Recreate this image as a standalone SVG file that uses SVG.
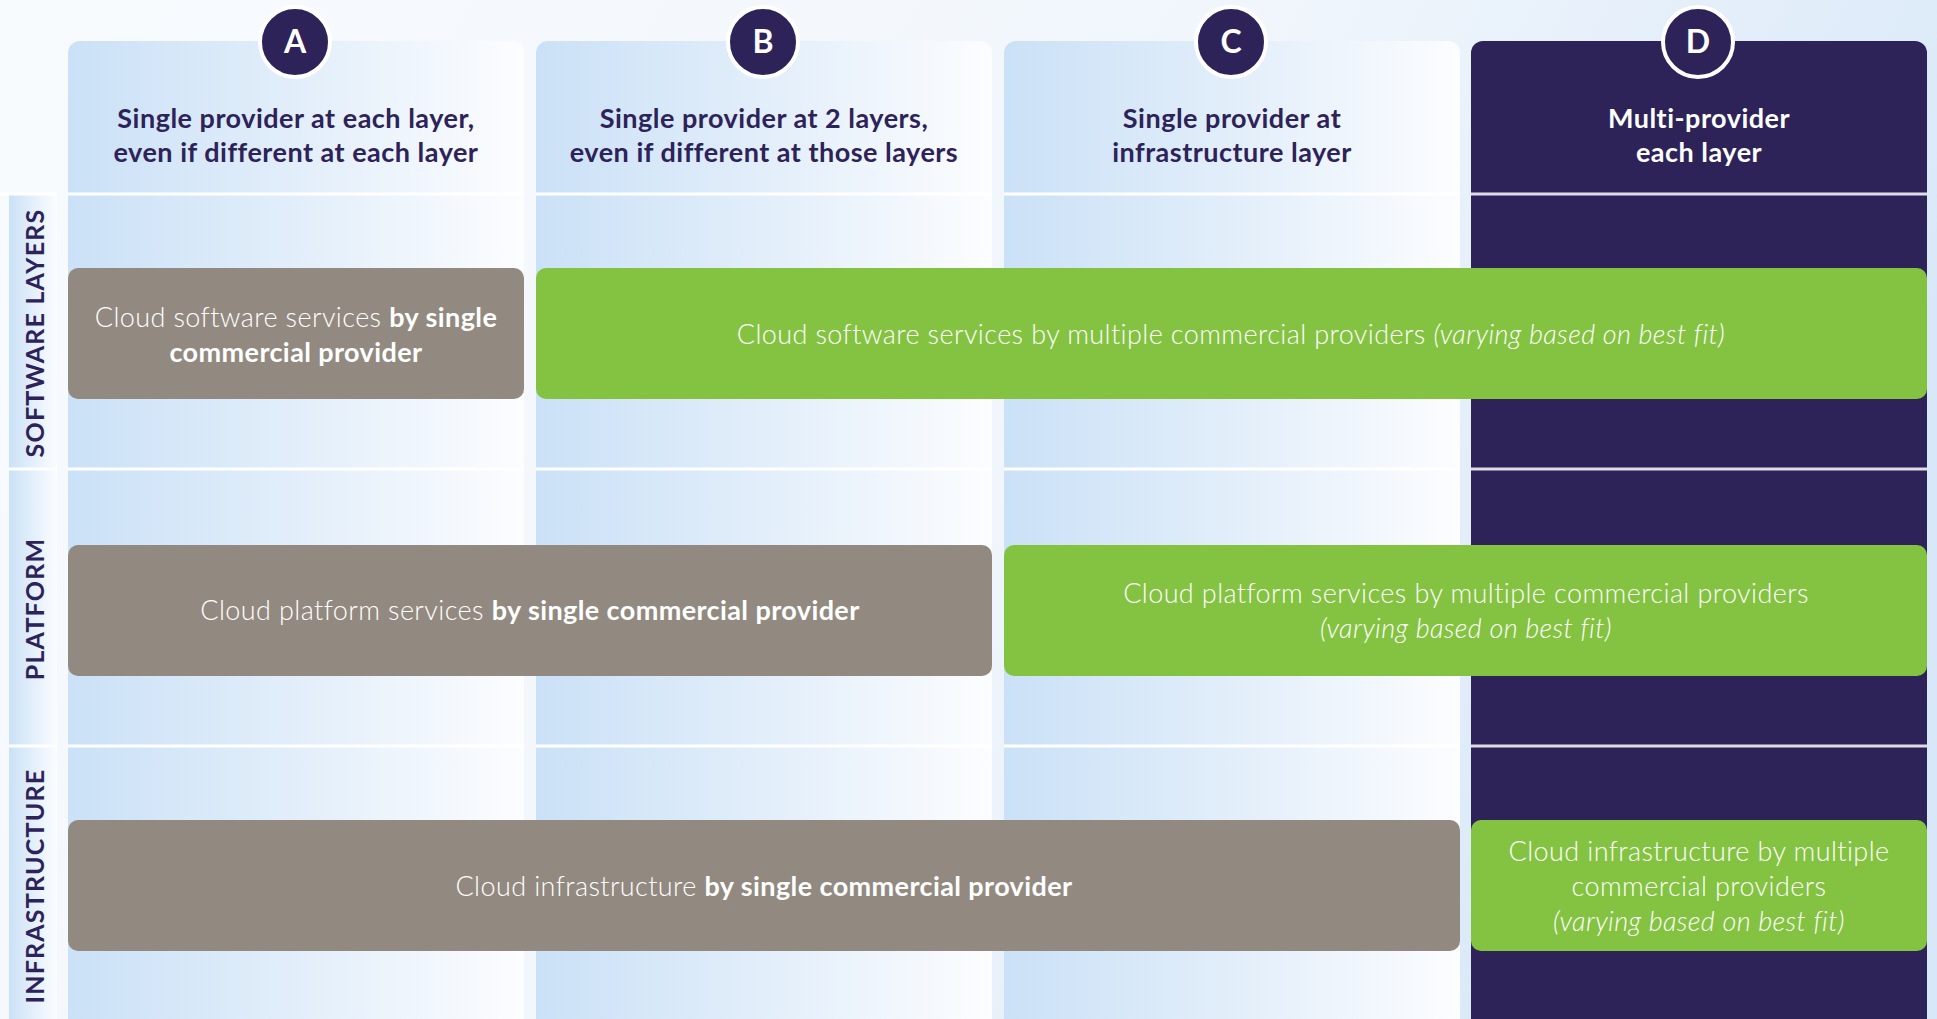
<svg xmlns="http://www.w3.org/2000/svg" width="1937" height="1019" viewBox="0 0 1937 1019">
<defs>
<linearGradient id="bg" x1="0" y1="0" x2="1" y2="0.3">
<stop offset="0" stop-color="#f8fbfe"/>
<stop offset="0.6" stop-color="#f1f6fc"/>
<stop offset="1" stop-color="#d9e8f8"/>
</linearGradient>
<linearGradient id="col" x1="0" y1="0" x2="1" y2="0">
<stop offset="0" stop-color="#cbe1f7"/>
<stop offset="0.5" stop-color="#e2eefa"/>
<stop offset="1" stop-color="#fcfdff"/>
</linearGradient>
<linearGradient id="lab" x1="0" y1="0" x2="1" y2="0">
<stop offset="0" stop-color="#cbe1f7"/>
<stop offset="1" stop-color="#fbfdff"/>
</linearGradient>
</defs>
<style>
.hdr{font-family:Lato,"Liberation Sans",sans-serif;font-weight:700;font-size:27px;letter-spacing:0.5px;fill:#2d2359;text-anchor:middle}
.hdrw{fill:#ffffff}
.lbl{font-family:Lato,"Liberation Sans",sans-serif;font-weight:700;font-size:25px;letter-spacing:1.2px;fill:#2d2359;text-anchor:middle}
.txt{font-family:Lato,"Liberation Sans",sans-serif;font-weight:300;font-size:27px;letter-spacing:0.4px;fill:#ffffff;text-anchor:middle}
.b{font-weight:700}
.i{font-style:italic}
.gray{fill:#928a80}
.green{fill:#84c341}
.sep{stroke:#ffffff;stroke-width:3}
.circ{fill:#2d2359;stroke:#ffffff;stroke-width:4}
.let{font-family:Lato,"Liberation Sans",sans-serif;font-weight:700;font-size:32px;fill:#ffffff;text-anchor:middle}
</style>
<rect x="0" y="0" width="1937" height="1019" fill="url(#bg)"/>

<g id="label-column">
<rect x="9" y="194" width="48" height="830" fill="url(#lab)"/>
<line class="sep" x1="9" y1="469" x2="57" y2="469"/>
<line class="sep" x1="9" y1="746" x2="57" y2="746"/>
<line class="sep" x1="0" y1="194" x2="57" y2="194"/>
</g>
<g id="label-software"><text class="lbl" transform="translate(44,333) rotate(-90)">SOFTWARE LAYERS</text></g>
<g id="label-platform"><text class="lbl" transform="translate(44,609) rotate(-90)">PLATFORM</text></g>
<g id="label-infrastructure"><text class="lbl" transform="translate(44,886) rotate(-90)">INFRASTRUCTURE</text></g>

<g id="column-a">
<path d="M68,53 a12,12 0 0 1 12,-12 h432 a12,12 0 0 1 12,12 V1030 H68 Z" fill="url(#col)"/>
<line class="sep" x1="68" y1="194" x2="524" y2="194"/>
<line class="sep" x1="68" y1="469" x2="524" y2="469"/>
<line class="sep" x1="68" y1="746" x2="524" y2="746"/>
<text class="hdr" x="296" y="128">Single provider at each layer,</text>
<text class="hdr" x="296" y="162">even if different at each layer</text>
<circle class="circ" cx="295" cy="42" r="35"/>
<text class="let" x="295" y="53">A</text>
</g>
<g id="column-b">
<path d="M536,53 a12,12 0 0 1 12,-12 h432 a12,12 0 0 1 12,12 V1030 H536 Z" fill="url(#col)"/>
<line class="sep" x1="536" y1="194" x2="992" y2="194"/>
<line class="sep" x1="536" y1="469" x2="992" y2="469"/>
<line class="sep" x1="536" y1="746" x2="992" y2="746"/>
<text class="hdr" x="764" y="128">Single provider at 2 layers,</text>
<text class="hdr" x="764" y="162">even if different at those layers</text>
<circle class="circ" cx="763" cy="42" r="35"/>
<text class="let" x="763" y="53">B</text>
</g>
<g id="column-c">
<path d="M1004,53 a12,12 0 0 1 12,-12 h432 a12,12 0 0 1 12,12 V1030 H1004 Z" fill="url(#col)"/>
<line class="sep" x1="1004" y1="194" x2="1460" y2="194"/>
<line class="sep" x1="1004" y1="469" x2="1460" y2="469"/>
<line class="sep" x1="1004" y1="746" x2="1460" y2="746"/>
<text class="hdr" x="1232" y="128">Single provider at</text>
<text class="hdr" x="1232" y="162">infrastructure layer</text>
<circle class="circ" cx="1231" cy="42" r="35"/>
<text class="let" x="1231" y="53">C</text>
</g>
<g id="column-d">
<path d="M1471,53 a12,12 0 0 1 12,-12 h432 a12,12 0 0 1 12,12 V1030 H1471 Z" fill="#2d2359"/>
<line class="sep" x1="1471" y1="194" x2="1927" y2="194" stroke-opacity="0.85"/>
<line class="sep" x1="1471" y1="469" x2="1927" y2="469" stroke-opacity="0.85"/>
<line class="sep" x1="1471" y1="746" x2="1927" y2="746" stroke-opacity="0.85"/>
<text class="hdr hdrw" x="1699" y="128">Multi-provider</text>
<text class="hdr hdrw" x="1699" y="162">each layer</text>
<circle class="circ" cx="1698" cy="42" r="35"/>
<text class="let" x="1698" y="53">D</text>
</g>

<g id="software-single">
<rect class="gray" x="68" y="268" width="456" height="131" rx="10"/>
<text class="txt" x="296" y="327">Cloud software services <tspan class="b">by single</tspan></text>
<text class="txt" x="296" y="362"><tspan class="b">commercial provider</tspan></text>
</g>
<g id="software-multi">
<rect class="green" x="536" y="268" width="1391" height="131" rx="10"/>
<text class="txt" x="1231" y="344">Cloud software services by multiple commercial providers <tspan class="i">(varying based on best fit)</tspan></text>
</g>
<g id="platform-single">
<rect class="gray" x="68" y="545" width="924" height="131" rx="10"/>
<text class="txt" x="530" y="620">Cloud platform services <tspan class="b">by single commercial provider</tspan></text>
</g>
<g id="platform-multi">
<rect class="green" x="1004" y="545" width="923" height="131" rx="10"/>
<text class="txt" x="1466" y="603">Cloud platform services by multiple commercial providers</text>
<text class="txt i" x="1466" y="638">(varying based on best fit)</text>
</g>
<g id="infrastructure-single">
<rect class="gray" x="68" y="820" width="1392" height="131" rx="10"/>
<text class="txt" x="764" y="896">Cloud infrastructure <tspan class="b">by single commercial provider</tspan></text>
</g>
<g id="infrastructure-multi">
<rect class="green" x="1471" y="820" width="456" height="131" rx="10"/>
<text class="txt" x="1699" y="861">Cloud infrastructure by multiple</text>
<text class="txt" x="1699" y="896">commercial providers</text>
<text class="txt i" x="1699" y="931">(varying based on best fit)</text>
</g>
</svg>
